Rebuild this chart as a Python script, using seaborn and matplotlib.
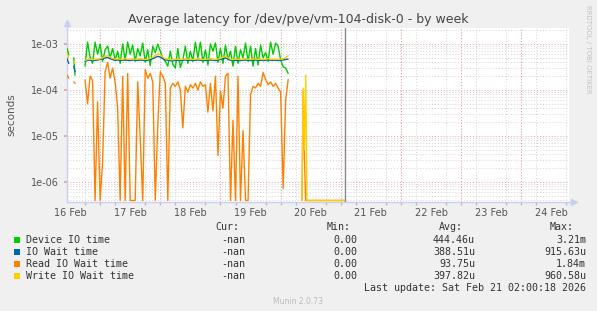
import numpy as np
import pandas as pd
import matplotlib
matplotlib.use("Agg")
import matplotlib.pyplot as plt
import matplotlib.dates as mdates
from matplotlib.patches import Rectangle
from matplotlib.ticker import LogLocator, FuncFormatter, NullFormatter
import seaborn as sns

# ---------------- data (values in microseconds) ----------------
series_names = ["Device IO time", "IO Wait time", "Read IO Wait time", "Write IO Wait time"]
series_colors = ["#00CC00", "#0066B3", "#FF8000", "#FFCC00"]

# short fragment at the very start
segA_times = ["2026-02-16 10:50", "2026-02-16 11:30"]
segA_device = [800, 580]
segA_iowait = [480, 380]
segA_read = [210, 180]
segA_write = [620, 500]

segB_times = ["2026-02-16 13:30", "2026-02-16 14:00"]
segB_device = [500, 210]
segB_iowait = [330, 250]
segB_read = [150, 140]
segB_write = [420, 380]

# main hourly block 16 Feb 18:00 -> 20 Feb 03:00
main_start = "2026-02-16 18:00"
main_device = [330, 1100, 520, 380, 1100, 600, 1000, 420, 750, 900,
               500, 800, 450, 700, 380, 1000, 450, 1100, 600, 950,
               420, 800, 550, 1050, 400, 750, 340, 900, 650, 1000,
               700, 500, 420, 330, 700, 360, 300, 800, 310, 450,
               900, 380, 700, 420, 1100, 500, 1100, 400, 750, 350,
               1000, 700, 1050, 400, 800, 380, 950, 450, 700, 330,
               900, 380, 750, 500, 1050, 420, 900, 330, 800, 350,
               950, 500, 650, 420, 1100, 600, 1050, 900, 450, 320,
               300, 230]
main_iowait = [420, 440, 450, 430, 440, 450, 460, 470, 500, 510,
               480, 460, 440, 450, 440, 445, 450, 440, 435, 450,
               445, 440, 450, 445, 435, 445, 460, 480, 510, 540,
               520, 480, 450, 445, 435, 430, 440, 445, 435, 445,
               450, 440, 445, 435, 445, 450, 445, 435, 440, 445,
               450, 445, 435, 445, 460, 480, 500, 470, 445, 435,
               445, 440, 435, 445, 450, 445, 435, 445, 450, 440,
               445, 435, 445, 450, 445, 440, 445, 435, 445, 450,
               460, 470]
main_read = [165, 50, 200, 160, 0, 55, 0, 2.6, 250, 400,
             180, 300, 150, 40, 0, 200, 0, 230, 0, 0,
             0, 150, 9, 0, 280, 180, 230, 150, 0, 17,
             250, 200, 140, 0, 110, 140, 120, 150, 100, 15,
             120, 90, 130, 110, 140, 100, 150, 120, 130, 33,
             140, 35, 200, 3.8, 95, 40, 200, 230, 0, 22,
             0, 200, 0, 13, 0, 0, 80, 120, 110, 140,
             120, 240, 170, 130, 150, 120, 140, 110, 90, 0.73,
             60, 170]
main_write = [440, 460, 470, 455, 465, 470, 480, 500, 540, 560,
              520, 490, 470, 475, 465, 470, 480, 470, 460, 475,
              470, 465, 480, 470, 460, 470, 490, 520, 560, 620,
              580, 520, 480, 470, 460, 455, 465, 470, 460, 470,
              475, 465, 470, 460, 470, 480, 470, 460, 465, 470,
              480, 470, 460, 470, 490, 520, 540, 500, 470, 460,
              470, 465, 460, 470, 480, 470, 460, 470, 475, 465,
              470, 460, 470, 480, 470, 465, 470, 460, 470, 480,
              500, 560]

# late spike then zeros (only the read / write series are visible here)
segC_times = ["2026-02-20 08:30", "2026-02-20 09:00", "2026-02-20 09:30",
              "2026-02-20 10:00", "2026-02-20 10:30", "2026-02-21 01:30"]
segC_device = None
segC_iowait = None
segC_read = [0, 95, 3, 0, 0, 0]
segC_write = [0, 110, 5, 210, 0, 0]

now_marker = "2026-02-21 01:40"

cur_vals = ["-nan", "-nan", "-nan", "-nan"]
min_vals = ["0.00", "0.00", "0.00", "0.00"]
avg_vals = ["444.46u", "388.51u", "93.75u", "397.82u"]
max_vals = ["3.21m", "915.63u", "1.84m", "960.58u"]

title = "Average latency for /dev/pve/vm-104-disk-0 - by week"
last_update = "Last update: Sat Feb 21 02:00:18 2026"

# ---------------- build long table ----------------
main_times = pd.date_range(main_start, periods=len(main_device), freq="h")
segments = [
    (pd.to_datetime(segA_times), segA_device, segA_iowait, segA_read, segA_write),
    (pd.to_datetime(segB_times), segB_device, segB_iowait, segB_read, segB_write),
    (main_times, main_device, main_iowait, main_read, main_write),
    (pd.to_datetime(segC_times), segC_device, segC_iowait, segC_read, segC_write),
]
rows = []
for sid, (times, *vals) in enumerate(segments):
    for name, v in zip(series_names, vals):
        if v is None:
            continue
        assert len(v) == len(times), (name, sid, len(v), len(times))
        for t, x in zip(times, v):
            rows.append({"time": t, "value": x * 1e-6, "series": name, "segment": sid})
df = pd.DataFrame(rows)

YMIN, YMAX = 3.67e-7, 2.23e-3
df["shown"] = np.maximum(df["value"], YMIN * 1.08)

# ---------------- figure ----------------
W, H = 597, 311
sns.set_theme(style="white")
plt.rcParams["font.family"] = ["DejaVu Sans"]
fig = plt.figure(figsize=(W / 100, H / 100), dpi=100, facecolor="#F0F0F0")

def fx(x):
    return x / W

def fy(y):
    return 1 - y / H

L, R, T, B = 67, 569, 28, 202
ax = fig.add_axes([fx(L), fy(B), (R - L) / W, (B - T) / H])
ax.set_facecolor("white")

sns.lineplot(data=df, x="time", y="shown", hue="series", hue_order=series_names,
             palette=dict(zip(series_names, series_colors)), units="segment",
             estimator=None, sort=False, legend=False, lw=1.0, ax=ax, zorder=3)

ax.set_yscale("log")
ax.set_ylim(YMIN, YMAX)
xmin = pd.Timestamp("2026-02-16 10:48")
xmax = pd.Timestamp("2026-02-24 19:00")
ax.set_xlim(xmin, xmax)

grid_gray = "#d4d4d4"
grid_red = "#e8a0a0"
dot = (0, (1, 2))

ax.yaxis.set_major_locator(LogLocator(base=10, numticks=20))
ax.yaxis.set_minor_locator(LogLocator(base=10, subs=np.arange(2, 10), numticks=20))
ax.yaxis.set_major_formatter(FuncFormatter(lambda v, p: f"{v:.0e}"))
ax.yaxis.set_minor_formatter(NullFormatter())

ax.xaxis.set_major_locator(mdates.HourLocator(byhour=[12]))
ax.xaxis.set_major_formatter(mdates.DateFormatter("%d %b"))
ax.xaxis.set_minor_locator(mdates.HourLocator(byhour=[0, 6, 12, 18]))

ax.grid(which="major", axis="y", color=grid_red, ls=dot, lw=0.7, zorder=1)
ax.grid(which="minor", axis="y", color=grid_gray, ls=dot, lw=0.7, zorder=1)
ax.grid(which="minor", axis="x", color=grid_gray, ls=dot, lw=0.7, zorder=1)
ax.grid(which="major", axis="x", visible=False)
for d in pd.date_range("2026-02-17", "2026-02-24", freq="D"):
    ax.axvline(d, color=grid_red, ls=dot, lw=0.7, zorder=1.5)

ax.axvline(pd.Timestamp(now_marker), color="#888888", lw=1.0, zorder=4)

axis_col = "#c8cff0"
for s in ["top", "right"]:
    ax.spines[s].set_visible(False)
for s in ["left", "bottom"]:
    ax.spines[s].set_color(axis_col)
    ax.spines[s].set_linewidth(1.0)
    ax.spines[s].set_zorder(2)
ax.plot([0, 0], [1, 1.03], transform=ax.transAxes, color=axis_col, lw=1.0, clip_on=False)
ax.plot([0], [1.03], marker="^", ms=4, color=axis_col, transform=ax.transAxes, clip_on=False)
ax.plot([1, 1.01], [0, 0], transform=ax.transAxes, color=axis_col, lw=1.0, clip_on=False)
ax.plot([1.01], [0], marker=">", ms=4, color=axis_col, transform=ax.transAxes, clip_on=False)

ax.tick_params(axis="x", which="major", length=0, pad=4, labelsize=7, labelcolor="#555555")
ax.tick_params(axis="x", which="minor", length=2, color="#bbbbbb", bottom=True)
ax.tick_params(axis="y", which="major", length=2, color=grid_red, pad=4, labelsize=7,
               labelcolor="#555555", left=True)
ax.tick_params(axis="y", which="minor", length=0)
ax.set_xlabel("")
ax.set_ylabel("")
fig.text(fx(11), fy(115), "seconds", rotation=90, ha="center", va="center",
         fontsize=7.5, color="#555555")

fig.text(fx(298), fy(19), title, ha="center", va="center", fontsize=9, color="#444444")
fig.text(fx(588), fy(5), "RRDTOOL / TOBI OETIKER", rotation=270, ha="center", va="top",
         fontsize=5, color="#c4c4c4")

mono = dict(family="DejaVu Sans Mono", fontsize=7.2, color="#333333", va="center")
fig.text(fx(239), fy(227), "Cur:", ha="right", **mono)
fig.text(fx(351), fy(227), "Min:", ha="right", **mono)
fig.text(fx(463), fy(227), "Avg:", ha="right", **mono)
fig.text(fx(574), fy(227), "Max:", ha="right", **mono)
row_y = [240, 252, 264, 276]
for i, name in enumerate(series_names):
    y = row_y[i]
    fig.patches.append(Rectangle((fx(14), fy(y + 3)), 6 / W, 6 / H, transform=fig.transFigure,
                                 facecolor=series_colors[i], edgecolor="none"))
    fig.text(fx(26), fy(y), name, ha="left", **mono)
    fig.text(fx(245), fy(y), cur_vals[i], ha="right", **mono)
    fig.text(fx(357), fy(y), min_vals[i], ha="right", **mono)
    fig.text(fx(475), fy(y), avg_vals[i], ha="right", **mono)
    fig.text(fx(586), fy(y), max_vals[i], ha="right", **mono)
fig.text(fx(586), fy(288), last_update, ha="right", **mono)
fig.text(fx(298), fy(301), "Munin 2.0.73", ha="center", va="center", fontsize=5.5, color="#bbbbbb")

fig.savefig("out.png", dpi=100, facecolor=fig.get_facecolor())
